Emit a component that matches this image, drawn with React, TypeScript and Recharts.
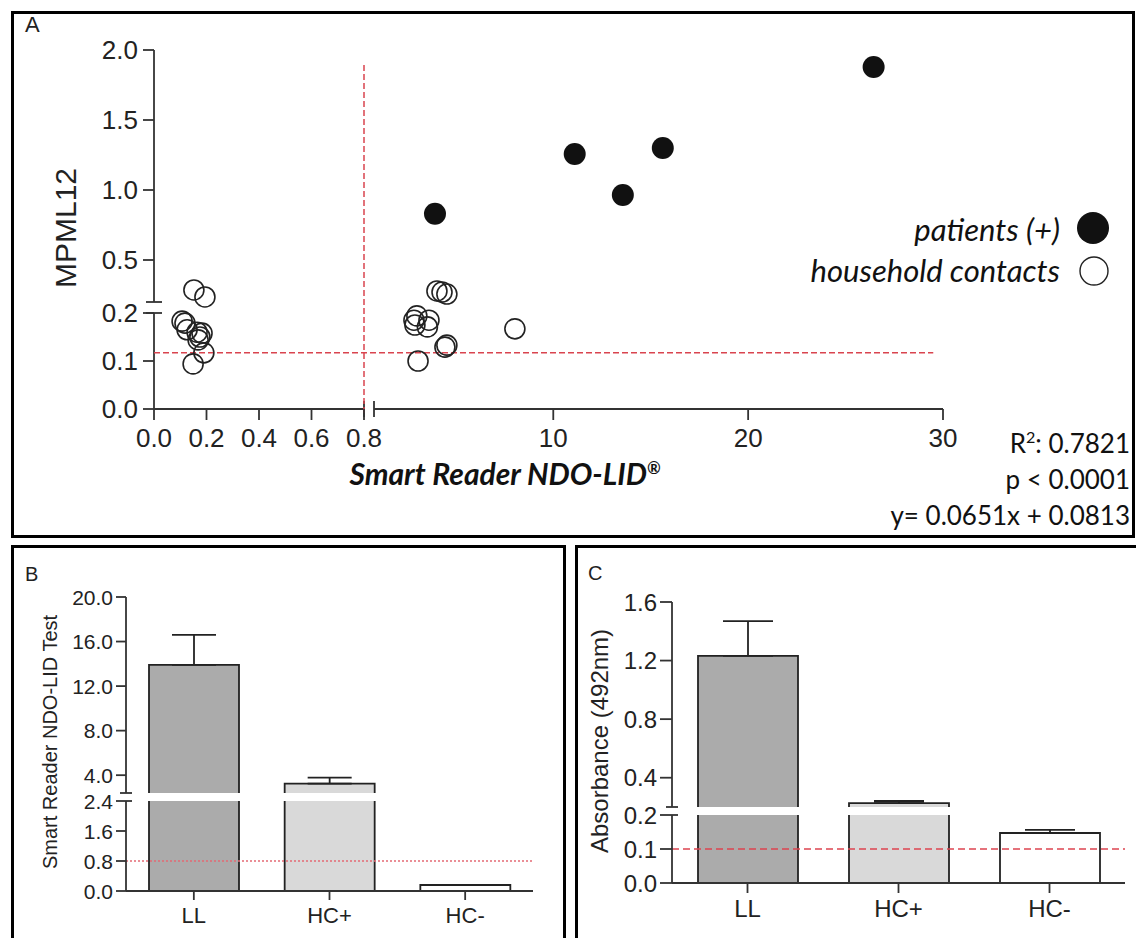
import React from 'react';
import {
  Bar,
  BarChart,
  Cell,
  ErrorBar,
  ReferenceLine,
  Scatter,
  ScatterChart,
  XAxis,
  YAxis,
} from 'recharts';

// Three panels: (A) MPML12 vs Smart Reader scatter with broken axes,
// (B) Smart Reader NDO-LID bars, (C) absorbance bars. B and C have a broken
// y axis, drawn as two stacked charts (upper / lower segment).

const SANS = '"Liberation Sans", Arial, sans-serif';
const HUMAN = 'Lato, "Open Sans", sans-serif';
const INK = '#222';
const AXIS = '#333';
const AXIS_W = 1.8;

// ---------- panel A data ----------
const HOUSEHOLD_X = [
  0.152, 0.194, 0.107, 0.118, 0.126, 0.164, 0.183, 0.175, 0.168, 0.19, 0.149,
  3.0, 2.85, 2.9, 3.62, 3.54, 4.03, 4.29, 4.54, 4.54, 4.44, 3.06, 8.03,
];
const HOUSEHOLD_Y = [
  0.286, 0.236, 0.183, 0.179, 0.165, 0.16, 0.158, 0.15, 0.144, 0.117, 0.094,
  0.194, 0.185, 0.175, 0.185, 0.171, 0.279, 0.271, 0.257, 0.133, 0.129, 0.1, 0.167,
];
const PATIENT_X = [3.93, 11.1, 13.57, 15.62, 26.44];
const PATIENT_Y = [0.83, 1.257, 0.964, 1.3, 1.879];

const A_X_TICKS_LOW = [0, 0.2, 0.4, 0.6, 0.8];
const A_X_TICKS_HIGH = [10, 20, 30];
const A_Y_TICKS_LOW = [0, 0.1, 0.2];
const A_Y_TICKS_HIGH = [0.5, 1.0, 1.5, 2.0];
const A_CUT_Y = 0.117; // MPML12 cut-off
const A_CUT_X = 0.8; // Smart Reader cut-off
const A_CUT_Y_END = 29.5;
const A_CUT_X_TOP = 1.91;

// broken axes: each segment owns a span of the axis (in px)
const AX_BREAK = 0.8;
const AX_MAX = 30;
const AX_SEG = { low: 210, gap: 10, high: 569 };
const AY_BREAK = 0.2;
const AY_MAX = 2.0;
const AY_SEG = { low: 96, gap: 11, high: 252 };

const ax = (v: number) =>
  v <= AX_BREAK
    ? (v / AX_BREAK) * AX_SEG.low
    : AX_SEG.low + AX_SEG.gap + ((v - AX_BREAK) / (AX_MAX - AX_BREAK)) * AX_SEG.high;
const ay = (v: number) =>
  v <= AY_BREAK
    ? (v / AY_BREAK) * AY_SEG.low
    : AY_SEG.low + AY_SEG.gap + ((v - AY_BREAK) / (AY_MAX - AY_BREAK)) * AY_SEG.high;

// ---------- panel B data ----------
const B_GROUPS = ['LL', 'HC+', 'HC-'];
const B_MEAN = [13.9, 3.24, 0.16];
const B_SD = [2.7, 0.54, 0];
const B_BREAK = 2.4;
const B_MAX = 20;
const B_TICKS_LOW = [0, 0.8, 1.6, 2.4];
const B_TICKS_HIGH = [2.4, 4, 8, 12, 16, 20];
const B_CUTOFF = 0.8;

// ---------- panel C data ----------
const C_GROUPS = ['LL', 'HC+', 'HC-'];
const C_MEAN = [1.232, 0.227, 0.147];
const C_SD = [0.238, 0.014, 0.009];
const C_BREAK = 0.2;
const C_MAX = 1.6;
const C_TICKS_LOW = [0, 0.1, 0.2];
const C_TICKS_HIGH = [0.2, 0.4, 0.8, 1.2, 1.6];
const C_CUTOFF = 0.1;

const BAR_FILLS = ['#ababab', '#d9d9d9', '#ffffff'];

// ---------- shapes ----------
function OpenDot(props: any) {
  const { cx, cy } = props;
  if (cx == null || cy == null) return null;
  return <circle cx={cx} cy={cy} r={10} fill="none" stroke={INK} strokeWidth={1.6} />;
}

function FilledDot(props: any) {
  const { cx, cy } = props;
  if (cx == null || cy == null) return null;
  return <circle cx={cx} cy={cy} r={11} fill="#111" />;
}

function OutlinedBar(props: any) {
  const { x, y, width, height, fill } = props;
  if (!width || height == null || Number.isNaN(y)) return null;
  const bottom = y + height;
  return (
    <g>
      <rect x={x} y={y} width={width} height={height} fill={fill} />
      <path
        d={`M${x},${bottom}V${y}H${x + width}V${bottom}`}
        fill="none"
        stroke={INK}
        strokeWidth={1.8}
      />
    </g>
  );
}

// y tick that also draws the axis-break mark (tickSize/margin are 0 so x is the axis)
function BreakYTick(props: any) {
  const { x, y, payload, len, pad, fontSize, breakAt, markOnly } = props;
  const v = payload.value as number;
  if (markOnly !== undefined && v === markOnly) {
    return <line x1={x - 6} x2={x + 6} y1={y} y2={y} stroke={AXIS} strokeWidth={AXIS_W} />;
  }
  return (
    <g>
      <line
        x1={x - len}
        x2={v === breakAt ? x + 6 : x}
        y1={y}
        y2={y}
        stroke={AXIS}
        strokeWidth={AXIS_W}
      />
      <text
        x={x - len - pad}
        y={y}
        dy="0.36em"
        textAnchor="end"
        fontSize={fontSize}
        fontFamily={SANS}
        fill={INK}
      >
        {v.toFixed(1)}
      </text>
    </g>
  );
}

// ---------- panel A ----------
function ScatterPanel() {
  const household = HOUSEHOLD_X.map((x, i) => ({ x: ax(x), y: ay(HOUSEHOLD_Y[i]) }));
  const patients = PATIENT_X.map((x, i) => ({ x: ax(x), y: ay(PATIENT_Y[i]) }));

  const xTickVals = [...A_X_TICKS_LOW, ...A_X_TICKS_HIGH];
  const xTicks = xTickVals.map(ax);
  const xLabels = new Map(
    xTickVals.map((t) => [ax(t), t < 1 ? t.toFixed(1) : String(t)] as [number, string]),
  );
  const yTickVals = [...A_Y_TICKS_LOW, ...A_Y_TICKS_HIGH];
  const yTicks = yTickVals.map(ay);
  const yLabels = new Map(yTickVals.map((t) => [ay(t), t.toFixed(1)] as [number, string]));

  const xEnd = ax(AX_MAX);
  const yEnd = ay(AY_MAX);
  const lowX = ax(AX_BREAK);
  const highX = lowX + AX_SEG.gap;
  const lowY = ay(AY_BREAK);
  const highY = lowY + AY_SEG.gap;

  const axisLine = { stroke: AXIS, strokeWidth: AXIS_W };
  const tickStyle = { fontSize: 26, fill: INK, fontFamily: SANS };
  const red = { stroke: '#d9444f', strokeWidth: 1.5, strokeDasharray: '6 3' };

  return (
    <div style={{ position: 'absolute', left: 0, top: 0 }}>
      <ScatterChart width={1136} height={540} margin={{ top: 50, right: 193, bottom: 71, left: 74 }}>
        <XAxis
          type="number"
          dataKey="x"
          domain={[0, xEnd]}
          ticks={xTicks}
          interval={0}
          tickFormatter={(v: number) => xLabels.get(v) ?? ''}
          axisLine={false}
          tickLine={axisLine}
          tickSize={11}
          tickMargin={9}
          tick={tickStyle}
          height={60}
        />
        <YAxis
          type="number"
          dataKey="y"
          domain={[0, yEnd]}
          ticks={yTicks}
          interval={0}
          tickFormatter={(v: number) => yLabels.get(v) ?? ''}
          axisLine={false}
          tickLine={axisLine}
          tickSize={11}
          tickMargin={5}
          tick={tickStyle}
          width={80}
        />

        {/* axis segments and break marks */}
        <ReferenceLine segment={[{ x: 0, y: 0 }, { x: lowX, y: 0 }]} {...axisLine} ifOverflow="visible" />
        <ReferenceLine segment={[{ x: highX, y: 0 }, { x: xEnd, y: 0 }]} {...axisLine} ifOverflow="visible" />
        <ReferenceLine segment={[{ x: lowX, y: -8 }, { x: lowX, y: 8 }]} {...axisLine} ifOverflow="visible" />
        <ReferenceLine segment={[{ x: highX, y: -8 }, { x: highX, y: 8 }]} {...axisLine} ifOverflow="visible" />
        <ReferenceLine segment={[{ x: 0, y: 0 }, { x: 0, y: lowY }]} {...axisLine} ifOverflow="visible" />
        <ReferenceLine segment={[{ x: 0, y: highY }, { x: 0, y: yEnd }]} {...axisLine} ifOverflow="visible" />
        <ReferenceLine segment={[{ x: -8, y: lowY }, { x: 8, y: lowY }]} {...axisLine} ifOverflow="visible" />
        <ReferenceLine segment={[{ x: -8, y: highY }, { x: 8, y: highY }]} {...axisLine} ifOverflow="visible" />

        {/* cut-off lines */}
        <ReferenceLine
          segment={[{ x: 0, y: ay(A_CUT_Y) }, { x: ax(A_CUT_Y_END), y: ay(A_CUT_Y) }]}
          {...red}
          ifOverflow="visible"
        />
        <ReferenceLine
          segment={[{ x: ax(A_CUT_X), y: -4 }, { x: ax(A_CUT_X), y: ay(A_CUT_X_TOP) }]}
          {...red}
          ifOverflow="visible"
        />

        <Scatter data={household} shape={(p: any) => <OpenDot {...p} />} isAnimationActive={false} />
        <Scatter data={patients} shape={(p: any) => <FilledDot {...p} />} isAnimationActive={false} />
      </ScatterChart>

      {/* texts */}
      <div style={{ position: 'absolute', left: 25, top: 14, font: `22px ${SANS}`, lineHeight: 1, color: INK }}>A</div>
      <div
        style={{
          position: 'absolute',
          left: 66,
          top: 228,
          transform: 'translate(-50%, -50%) rotate(-90deg)',
          font: `30px ${SANS}`,
          lineHeight: 1,
          color: INK,
          whiteSpace: 'nowrap',
        }}
      >
        MPML12
      </div>
      <div
        style={{
          position: 'absolute',
          left: 505,
          top: 473,
          transform: 'translate(-50%, -50%)',
          font: `italic bold 30px ${HUMAN}`,
          lineHeight: 1,
          color: '#111',
          whiteSpace: 'nowrap',
        }}
      >
        Smart Reader NDO-LID<sup style={{ fontSize: '0.55em' }}>®</sup>
      </div>

      {/* legend */}
      <div
        style={{
          position: 'absolute',
          right: 76,
          top: 209,
          font: `italic 31px ${HUMAN}`,
          lineHeight: '41px',
          textAlign: 'right',
          color: '#111',
          whiteSpace: 'nowrap',
        }}
      >
        <div>patients (+)</div>
        <div>household contacts</div>
      </div>
      <svg width={40} height={80} style={{ position: 'absolute', left: 1074, top: 208 }}>
        <circle cx={19} cy={20} r={16} fill="#111" />
        <circle cx={20} cy={63} r={14} fill="#fff" stroke={INK} strokeWidth={1.4} />
      </svg>

      {/* regression stats */}
      <div
        style={{
          position: 'absolute',
          right: 6,
          top: 419,
          font: `26px ${HUMAN}`,
          lineHeight: '36px',
          textAlign: 'right',
          color: '#111',
          whiteSpace: 'nowrap',
        }}
      >
        <div>
          R<span style={{ fontSize: '0.62em', verticalAlign: '0.6em' }}>2</span>: 0.7821
        </div>
        <div>p &lt; 0.0001</div>
        <div>y= 0.0651x + 0.0813</div>
      </div>
    </div>
  );
}

// ---------- panels B / C ----------
type Geo = {
  left: number;
  width: number;
  plotLeft: number;
  plotRight: number;
  upperTop: number;
  upperBottom: number;
  lowerTop: number;
  lowerBottom: number;
};

const PAD_TOP = 18;

function BrokenBars(props: {
  groups: string[];
  means: number[];
  sds: number[];
  brk: number;
  max: number;
  ticksLow: number[];
  ticksHigh: number[];
  cutoff: number;
  cutoffStyle: any;
  geo: Geo;
  barSize: number;
  capHalf: number;
  tickFont: number;
  catFont: number;
  tickLen: number;
  tickPad: number;
  xTickSize: number;
  xTickMargin: number;
}) {
  const { groups, means, sds, brk, max, geo } = props;
  const YAW = 60;
  const mLeft = geo.plotLeft - geo.left - YAW;
  const mRight = geo.left + geo.width - geo.plotRight;

  const upperRows = groups.map((g, i) => ({
    g,
    v: means[i] > brk ? means[i] : null,
    e: means[i] > brk ? [0, sds[i]] : null,
  }));
  const lowerRows = groups.map((g, i) => ({
    g,
    v: means[i],
    e: means[i] <= brk && sds[i] > 0 ? [0, sds[i]] : null,
  }));

  const axisLine = { stroke: AXIS, strokeWidth: AXIS_W };
  const upperPlotH = geo.upperBottom - geo.upperTop;
  const lowerPlotH = geo.lowerBottom - geo.lowerTop;

  const bars = () => (
    <Bar
      dataKey="v"
      barSize={props.barSize}
      shape={(p: any) => <OutlinedBar {...p} />}
      isAnimationActive={false}
    >
      {groups.map((g, i) => (
        <Cell key={g} fill={BAR_FILLS[i]} />
      ))}
      <ErrorBar
        dataKey="e"
        width={props.capHalf}
        stroke={INK}
        strokeWidth={1.8}
        direction="y"
        isAnimationActive={false}
      />
    </Bar>
  );

  return (
    <>
      <div style={{ position: 'absolute', left: geo.left, top: geo.upperTop - PAD_TOP }}>
        <BarChart
          width={geo.width}
          height={upperPlotH + PAD_TOP + 8}
          data={upperRows}
          margin={{ top: PAD_TOP, right: mRight, bottom: 8, left: mLeft }}
        >
          <XAxis dataKey="g" hide height={0} />
          <YAxis
            type="number"
            domain={[brk, max]}
            ticks={props.ticksHigh}
            interval={0}
            allowDataOverflow
            width={YAW}
            axisLine={axisLine}
            tickLine={false}
            tickSize={0}
            tickMargin={0}
            tick={
              <BreakYTick
                len={props.tickLen}
                pad={props.tickPad}
                fontSize={props.tickFont}
                markOnly={brk}
              />
            }
          />
          {bars()}
        </BarChart>
      </div>
      <div style={{ position: 'absolute', left: geo.left, top: geo.lowerTop - PAD_TOP }}>
        <BarChart
          width={geo.width}
          height={lowerPlotH + PAD_TOP + 46}
          data={lowerRows}
          margin={{ top: PAD_TOP, right: mRight, bottom: 0, left: mLeft }}
        >
          <XAxis
            dataKey="g"
            interval={0}
            axisLine={axisLine}
            tickLine={axisLine}
            tickSize={props.xTickSize}
            tickMargin={props.xTickMargin}
            tick={{ fontSize: props.catFont, fill: INK, fontFamily: SANS }}
            height={46}
          />
          <YAxis
            type="number"
            domain={[0, brk]}
            ticks={props.ticksLow}
            interval={0}
            allowDataOverflow
            width={YAW}
            axisLine={axisLine}
            tickLine={false}
            tickSize={0}
            tickMargin={0}
            tick={
              <BreakYTick
                len={props.tickLen}
                pad={props.tickPad}
                fontSize={props.tickFont}
                breakAt={brk}
              />
            }
          />
          {bars()}
          <ReferenceLine y={props.cutoff} {...props.cutoffStyle} />
        </BarChart>
      </div>
    </>
  );
}

const B_GEO: Geo = {
  left: 12,
  width: 553,
  plotLeft: 126,
  plotRight: 533,
  upperTop: 597,
  upperBottom: 793,
  lowerTop: 801,
  lowerBottom: 891,
};

const C_GEO: Geo = {
  left: 578,
  width: 558,
  plotLeft: 672,
  plotRight: 1125,
  upperTop: 602,
  upperBottom: 807,
  lowerTop: 815,
  lowerBottom: 883,
};

function Frame({ left, top, width, height }: { left: number; top: number; width: number; height: number }) {
  return (
    <div
      style={{
        position: 'absolute',
        left,
        top,
        width,
        height,
        border: '3px solid #000',
        boxSizing: 'border-box',
      }}
    />
  );
}

export default function App() {
  return (
    <div
      style={{
        position: 'absolute',
        left: 0,
        top: 0,
        width: 1136,
        height: 938,
        overflow: 'hidden',
        background: '#fff',
      }}
    >
      <Frame left={11} top={11} width={1124} height={527} />
      <Frame left={11} top={545} width={555} height={420} />
      <Frame left={575} top={545} width={600} height={420} />

      <ScatterPanel />

      <BrokenBars
        groups={B_GROUPS}
        means={B_MEAN}
        sds={B_SD}
        brk={B_BREAK}
        max={B_MAX}
        ticksLow={B_TICKS_LOW}
        ticksHigh={B_TICKS_HIGH}
        cutoff={B_CUTOFF}
        cutoffStyle={{ stroke: '#e46a74', strokeWidth: 1.3, strokeDasharray: '2 2' }}
        geo={B_GEO}
        barSize={90}
        capHalf={22}
        tickFont={21}
        catFont={22}
        tickLen={10}
        tickPad={3}
        xTickSize={9}
        xTickMargin={7}
      />
      <BrokenBars
        groups={C_GROUPS}
        means={C_MEAN}
        sds={C_SD}
        brk={C_BREAK}
        max={C_MAX}
        ticksLow={C_TICKS_LOW}
        ticksHigh={C_TICKS_HIGH}
        cutoff={C_CUTOFF}
        cutoffStyle={{ stroke: '#dd4450', strokeWidth: 1.6, strokeDasharray: '7 4' }}
        geo={C_GEO}
        barSize={100}
        capHalf={25}
        tickFont={24}
        catFont={24}
        tickLen={12}
        tickPad={3}
        xTickSize={10}
        xTickMargin={7}
      />

      <div style={{ position: 'absolute', left: 25, top: 564, font: `20px ${SANS}`, lineHeight: 1, color: INK }}>B</div>
      <div style={{ position: 'absolute', left: 588, top: 563, font: `20px ${SANS}`, lineHeight: 1, color: INK }}>C</div>
      <div
        style={{
          position: 'absolute',
          left: 50,
          top: 742,
          transform: 'translate(-50%, -50%) rotate(-90deg)',
          font: `20px ${SANS}`,
          lineHeight: 1,
          color: INK,
          whiteSpace: 'nowrap',
        }}
      >
        Smart Reader NDO-LID Test
      </div>
      <div
        style={{
          position: 'absolute',
          left: 600,
          top: 741,
          transform: 'translate(-50%, -50%) rotate(-90deg)',
          font: `24px ${SANS}`,
          lineHeight: 1,
          color: INK,
          whiteSpace: 'nowrap',
        }}
      >
        Absorbance (492nm)
      </div>
    </div>
  );
}
